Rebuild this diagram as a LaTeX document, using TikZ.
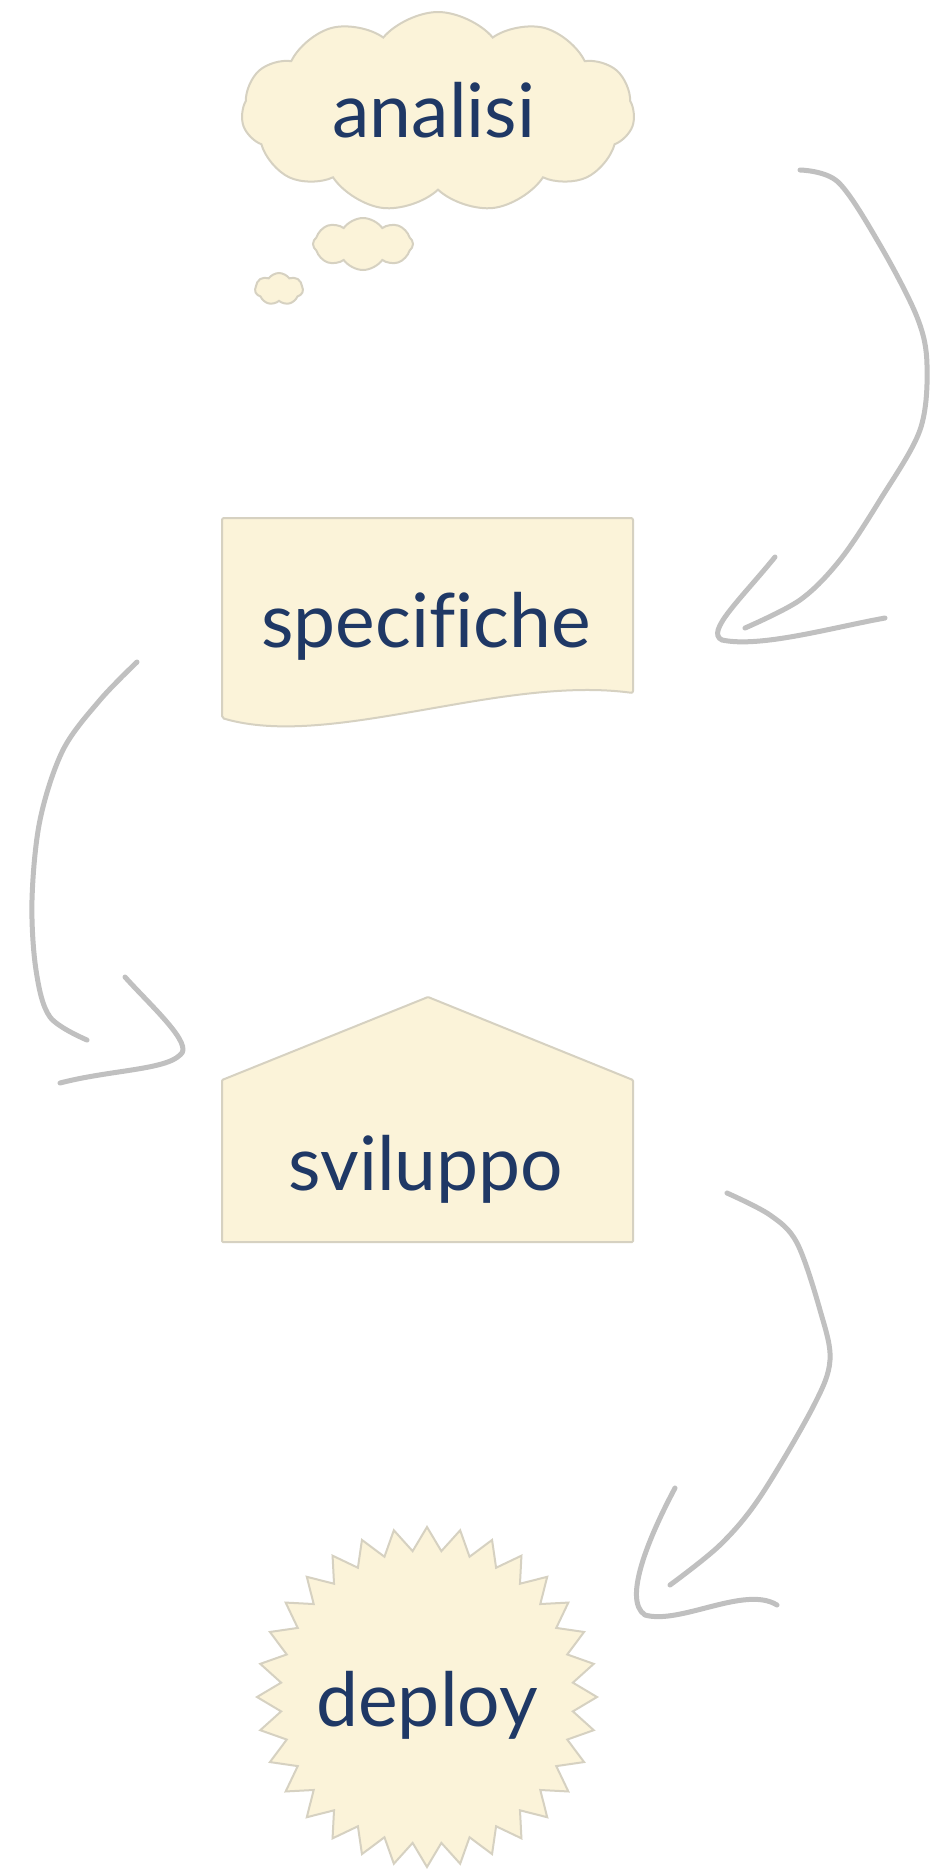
\documentclass[tikz,border=0pt]{standalone}
\usepackage{fontspec}
\setmainfont{Lato}[Ligatures=NoCommon]
\usetikzlibrary{shapes.geometric,shapes.symbols}
\definecolor{boxfill}{HTML}{FBF3D9}
\definecolor{boxline}{HTML}{D6D1C1}
\definecolor{txtc}{HTML}{1F3865}
\definecolor{arrowc}{HTML}{C0C0C0}
\begin{document}
\begin{tikzpicture}[x=1pt,y=-1pt,
  shapebox/.style={fill=boxfill, draw=boxline, line width=2pt},
  lbl/.style={text=txtc, font=\fontsize{75}{82}\selectfont, anchor=base, inner sep=0pt},
  conn/.style={draw=arrowc, line width=5pt, line cap=round, line join=round},
  puff/.style={cloud, shapebox, inner sep=0pt, cloud ignores aspect}]
\useasboundingbox (0,0) rectangle (935,1872);
\fill[white] (0,0) rectangle (935,1872);

% analisi cloud
\node[puff, cloud puffs=11, cloud puff arc=100, minimum width=393pt, minimum height=200pt] (cloudA) at (438,112) {};
\node[puff, cloud puffs=8, cloud puff arc=110, minimum width=100pt, minimum height=52pt] (cloudB) at (363,244) {};
\node[puff, cloud puffs=7, cloud puff arc=110, minimum width=48pt, minimum height=32pt] (cloudC) at (279,289) {};
\node[lbl] (tA) at (434,137) {analisi};

% specifiche document
\path[shapebox, rounded corners=2pt] (222,518) -- (633,518) -- (633,693)
  .. controls (500,675) and (330,750) .. (222,718) -- cycle;
\node[lbl] (tS) at (426,647) {specifiche};

% sviluppo house
\path[shapebox, rounded corners=1pt] (222,1242) -- (222,1080) -- (428,997) -- (633,1080) -- (633,1242) -- cycle;
\node[lbl] (tV) at (426,1190) {sviluppo};

% deploy starburst
\node[star, star points=32, star point ratio=1.16, minimum size=340pt, shapebox, inner sep=0pt] (star) at (427,1697) {};
\node[lbl] (tD) at (427,1726) {deploy};

% arrow 1
\coordinate (a1s) at (800,170);
\coordinate (a1e) at (745,628);
\draw[conn] plot[smooth, tension=0.55] coordinates {(a1s) (838,182) (880,245) (917,317) (927,365) (920,430) (880,500) (840,560) (800,600) (a1e)};
\draw[conn] (775,557) .. controls (740,600) and (705,632) .. (722,640) .. controls (760,648) and (830,628) .. (885,618);

% arrow 2
\coordinate (a2s) at (137,662);
\coordinate (a2e) at (87,1040);
\draw[conn] plot[smooth, tension=0.55] coordinates {(a2s) (100,700) (63,750) (40,820) (32,900) (36,970) (50,1017) (a2e)};
\draw[conn] (125,977) .. controls (150,1005) and (195,1045) .. (180,1055) .. controls (165,1070) and (110,1070) .. (60,1083);

% arrow 3
\coordinate (a3s) at (727,1193);
\coordinate (a3e) at (670,1585);
\draw[conn] plot[smooth, tension=0.55] coordinates {(a3s) (770,1215) (797,1243) (820,1310) (830,1360) (813,1407) (760,1497) (720,1545) (a3e)};
\draw[conn] (675,1488) .. controls (650,1535) and (622,1600) .. (645,1615) .. controls (680,1625) and (745,1585) .. (777,1605);
\end{tikzpicture}
\end{document}
